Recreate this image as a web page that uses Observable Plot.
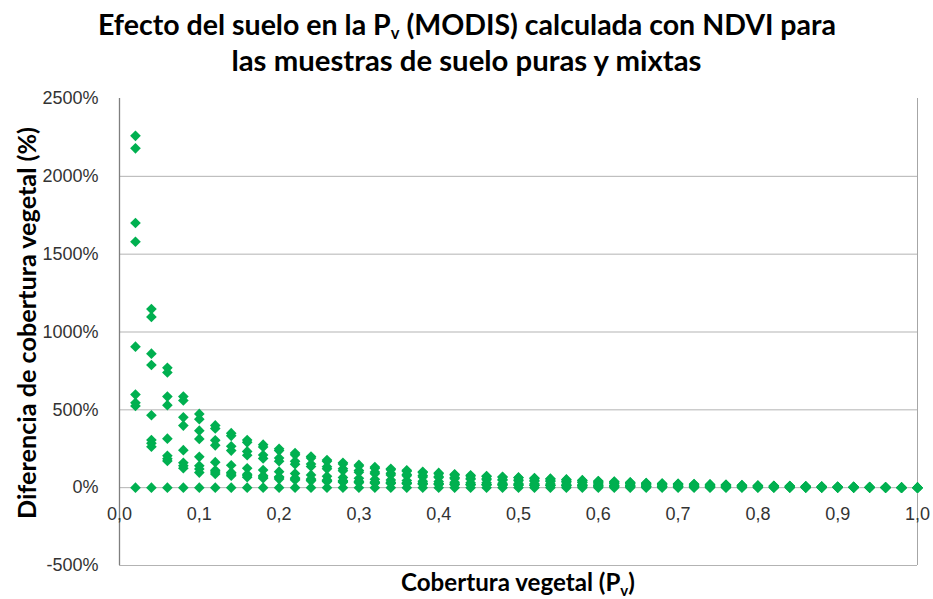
<!DOCTYPE html>
<html><head><meta charset="utf-8">
<script src="https://cdn.jsdelivr.net/npm/d3@7"></script>
<script src="https://cdn.jsdelivr.net/npm/@observablehq/plot@0.6"></script>
<style>
body{margin:0;background:#fff;width:933px;height:599px;overflow:hidden;font-family:"Liberation Sans",sans-serif}
#title{height:88px;text-align:center;font-family:Lato,"DejaVu Sans Condensed",sans-serif;font-weight:bold;font-size:29px;padding-top:5px;box-sizing:border-box;color:#000}
#title .row{white-space:nowrap}
#title .r1{height:38px;line-height:38px}
#title .r2{height:34px;line-height:34px}
#title .ln{display:inline-block;white-space:nowrap;transform-origin:center;line-height:1.15}
#title sub{font-size:58%;vertical-align:baseline;position:relative;top:0.22em;line-height:1}
#chart svg{display:block}
</style></head><body>
<div id="title"><div class="row r1"><span class="ln" data-w="738">Efecto del suelo en la P<sub>v</sub> (MODIS) calculada con NDVI para</span></div><div class="row r2"><span class="ln" data-w="470">las muestras de suelo puras y mixtas</span></div></div>
<div id="chart"></div>
<script>
const xValues = [
0.02,0.04,0.06,0.08,0.10,0.12,0.14,0.16,0.18,0.20,
0.22,0.24,0.26,0.28,0.30,0.32,0.34,0.36,0.38,0.40,
0.42,0.44,0.46,0.48,0.50,0.52,0.54,0.56,0.58,0.60,
0.62,0.64,0.66,0.68,0.70,0.72,0.74,0.76,0.78,0.80,
0.82,0.84,0.86,0.88,0.90,0.92,0.94,0.96,0.98,1.00];

const serie1 = [
2260,1147,770,585,474,400,350,306,276,250,
222,200,178,160,146,132,121,112,102,95,
86,79,75,70,66,62,58,53,48,43,
39,34,30,27,25,23,21,19,16,14,
12,10,9,7,6,5,3,2,1,0];
const serie2 = [
2180,1097,740,560,440,380,333,291,262,238,
211,190,169,152,139,125,115,106,97,90,
82,75,71,67,63,59,55,50,46,41,
37,32,29,26,24,22,20,18,15,13,
11,10,9,7,6,5,3,2,1,0];
const serie3 = [
1700,861,585,452,366,304,266,233,210,190,
169,152,135,122,111,100,92,85,78,72,
65,60,57,53,50,47,44,40,36,33,
30,26,23,21,19,17,16,14,12,11,
9,8,7,5,5,4,2,2,1,0];
const serie4 = [
1580,788,530,399,313,272,238,208,188,170,
151,136,121,109,99,90,82,76,69,65,
58,54,51,48,45,42,39,36,33,29,
27,23,20,18,17,16,14,13,11,10,
8,7,6,5,4,3,2,1,1,0];
const serie5 = [
906,465,315,241,198,164,144,125,113,103,
91,82,73,66,60,54,50,46,42,39,
35,32,31,29,27,25,24,22,20,18,
16,14,12,11,10,9,9,8,7,6,
5,4,4,3,2,2,1,1,0,0];
const serie6 = [
598,306,205,160,140,112,98,86,77,70,
62,56,50,45,41,37,34,31,29,27,
24,22,21,20,18,17,16,15,13,12,
11,10,8,8,7,6,6,5,4,4,
3,3,3,2,2,1,1,1,0,0];
const serie7 = [
545,285,185,140,120,100,88,77,69,63,
56,50,45,40,37,33,30,28,26,24,
22,20,19,18,17,16,15,13,12,11,
10,9,8,7,6,6,5,5,4,4,
3,3,2,2,2,1,1,0,0,0];
const serie8 = [
525,263,172,125,97,88,77,67,61,55,
49,44,39,35,32,29,27,25,22,21,
19,17,17,15,15,14,13,12,11,9,
9,7,7,6,6,5,5,4,4,3,
3,2,2,2,1,1,1,0,0,0];
const serie9 = [
0,0,0,0,0,0,0,0,0,0,
0,0,0,0,0,0,0,0,0,0,
0,0,0,0,0,0,0,0,0,0,
0,0,0,0,0,0,0,0,0,0,
0,0,0,0,0,0,0,0,0,0];

const yTicks = [-500,0,500,1000,1500,2000,2500];
const gridLines = [-500,0,500,1000,1500,2000];
const xTicks = [0,0.1,0.2,0.3,0.4,0.5,0.6,0.7,0.8,0.9,1.0];
const xTickLabels = ["0,0","0,1","0,2","0,3","0,4","0,5","0,6","0,7","0,8","0,9","1,0"];

const allSeries = [serie1,serie2,serie3,serie4,serie5,serie6,serie7,serie8,serie9];
const points = [];
allSeries.forEach((s, k) => s.forEach((v, i) => points.push({x: xValues[i], y: v, serie: k})));

// scale title lines horizontally to the reference widths
document.querySelectorAll("#title .ln").forEach(el => {
  const w = el.getBoundingClientRect().width;
  el.style.transform = `scaleX(${(+el.dataset.w) / w})`;
});

const FONT = '"Liberation Sans",Arimo,sans-serif';
const TFONT = 'Lato,"DejaVu Sans Condensed",sans-serif';
const plot = Plot.plot({
  width: 933, height: 511,
  marginLeft: 119, marginRight: 16, marginTop: 10, marginBottom: 34,
  style: {fontFamily: FONT, fontSize: "18px", color: "#333", background: "#fff", overflow: "visible"},
  x: {domain: [0, 1], axis: null},
  y: {domain: [-500, 2500], ticks: yTicks, tickSize: 0, tickPadding: 21, tickFormat: d => d + "%", label: null},
  marks: [
    Plot.ruleY(gridLines, {stroke: "#b3b3b3", strokeWidth: 1}),
    Plot.ruleX([1], {stroke: "#a6a6a6", strokeWidth: 1}),
    Plot.ruleX([0], {stroke: "#7f7f7f", strokeWidth: 1.3}),
    Plot.text(xTicks, {x: d => d, y: 0, text: (d, i) => xTickLabels[i], dy: 27, fontSize: 18, fill: "#333"}),
    Plot.dot(points, {x: "x", y: "y", symbol: "diamond2", r: 4.8, fill: "#00b050", stroke: "none"})
  ]
});
document.getElementById("chart").appendChild(plot);

const svg = d3.select(plot);
svg.append("text")
  .attr("transform", "translate(26,235) rotate(-90)")
  .attr("text-anchor", "middle").attr("dominant-baseline", "central")
  .attr("font-family", TFONT).attr("font-weight", "bold").attr("font-size", 24).attr("fill", "#000")
  .attr("textLength", 392).attr("lengthAdjust", "spacingAndGlyphs")
  .text("Diferencia de cobertura vegetal (%)");
const xt = svg.append("text")
  .attr("x", 518).attr("y", 503)
  .attr("text-anchor", "middle")
  .attr("font-family", TFONT).attr("font-weight", "bold").attr("font-size", 24).attr("fill", "#000");
xt.append("tspan").text("Cobertura vegetal (P");
xt.append("tspan").attr("font-size", 15).attr("dy", 5).text("v");
xt.append("tspan").attr("dy", -5).text(")");
// fit x title width to reference
const bb = xt.node().getBBox();
const sx = 234 / bb.width;
xt.attr("transform", `translate(${518 * (1 - sx)},0) scale(${sx},1)`);
</script></body></html>
